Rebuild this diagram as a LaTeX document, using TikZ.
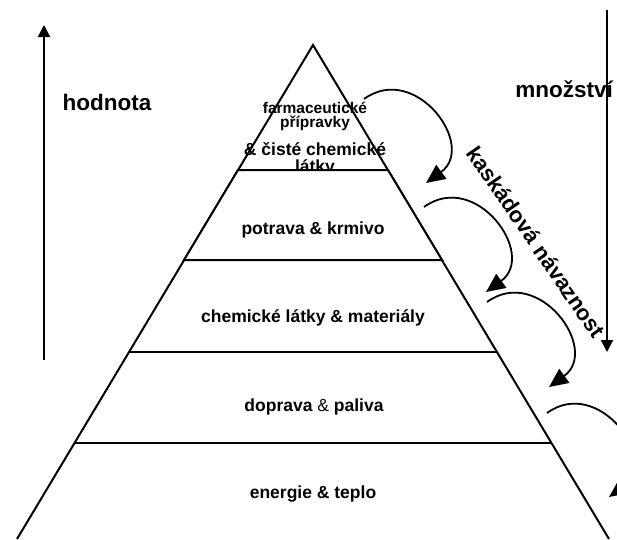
\documentclass[tikz,border=0pt]{standalone}
\usepackage{fontspec}
\setmainfont{Liberation Sans}
\usetikzlibrary{arrows.meta}

\begin{document}
\begin{tikzpicture}[x=1pt,y=1pt,line width=2pt,
    every node/.style={inner sep=0pt},
    layer/.style={font=\fontsize{17.5}{20}\selectfont\bfseries,anchor=base},
    toplayer/.style={font=\fontsize{15.5}{18}\selectfont\bfseries,anchor=base},
    axis/.style={font=\fontsize{22.5}{26}\selectfont\bfseries,anchor=base},
    flow/.style={-{Triangle[length=19pt,width=17pt]},line width=1.8pt},
    axisarrow/.style={-{Triangle[length=12pt,width=12pt]},line width=2.2pt}]
    \useasboundingbox (0,0) rectangle (617,-539);

    \coordinate (apex) at (313,-45);
    \coordinate (l1) at (238,-170);
    \coordinate (r1) at (388,-170);
    \coordinate (l2) at (184,-260);
    \coordinate (r2) at (442,-260);
    \coordinate (l3) at (129,-352);
    \coordinate (r3) at (497,-352);
    \coordinate (l4) at (74,-443);
    \coordinate (r4) at (552,-443);
    \coordinate (l5) at (17,-539);
    \coordinate (r5) at (609,-539);

    \draw (l5) -- (apex) -- (r5);

    % top layer, its last line is hidden by the next layer
    \node[toplayer] (farma) at (315,-113) {farmaceutické};
    \node[toplayer] (pripr) at (315,-127) {přípravky};
    \node[layer] (ciste) at (315,-155) {\& čisté chemické};
    \node[layer] (latky) at (315,-172) {látky};

    \filldraw[fill=white] (l1) -- (r1) -- (r2) -- (l2) -- cycle;
    \draw (l3) -- (r3);
    \draw (l4) -- (r4);

    \node[layer] (food) at (313,-234) {potrava \& krmivo};
    \node[layer] (chem) at (313,-322) {chemické látky \& materiály};
    \node[layer] (fuel) at (314,-411) {doprava {\mdseries\&} paliva};
    \node[layer] (heat) at (313,-498) {energie \& teplo};

    % value and volume
    \coordinate (v0) at (44,-360);
    \coordinate (v1) at (44,-25);
    \coordinate (m0) at (607,-10);
    \coordinate (m1) at (607,-352);
    \draw[axisarrow] (v0) -- (v1);
    \draw[axisarrow] (m0) -- (m1);
    \node[axis] (value) at (107,-110) {hodnota};
    \node[axis] (amount) at (564,-97) {množství};

    % cascade
    \coordinate (s1) at (364,-99);
    \coordinate (e1) at (426,-183);
    \coordinate (s2) at (424,-207);
    \coordinate (e2) at (486,-292);
    \coordinate (s3) at (487,-302);
    \coordinate (e3) at (549,-387);
    \coordinate (s4) at (547,-413);
    \coordinate (e4) at (609,-497);
    \draw[flow] (s1) to[out=36,in=36,looseness=1.55] (e1);
    \draw[flow] (s2) to[out=36,in=36,looseness=1.55] (e2);
    \draw[flow] (s3) to[out=36,in=36,looseness=1.55] (e3);
    \draw[flow] (s4) to[out=36,in=36,looseness=1.55] (e4);
    \node[font=\fontsize{22}{25}\selectfont\bfseries,rotate=-55.5] (cascade) at (536,-242) {kaskádová návaznost};
\end{tikzpicture}
\end{document}
